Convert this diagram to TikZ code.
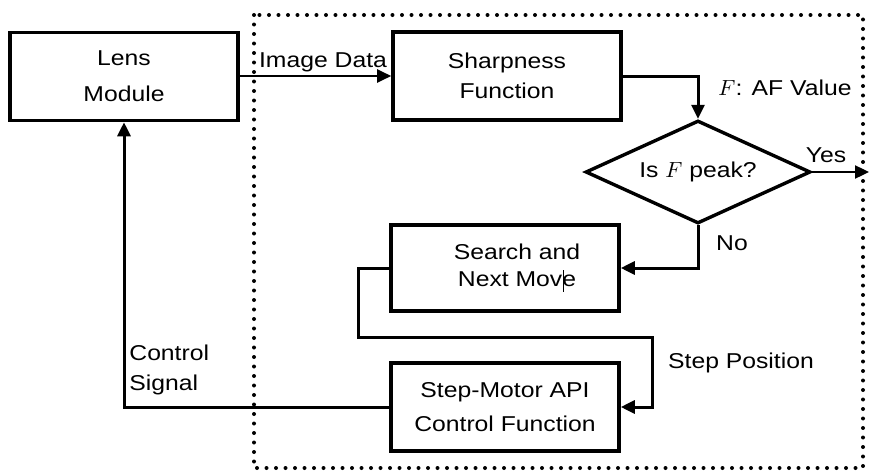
\documentclass[tikz,border=0pt]{standalone}
\usepackage{fontspec}
\setmainfont[FakeStretch=1.15]{Liberation Sans}
\usetikzlibrary{shapes.geometric,arrows.meta}

\begin{document}
\begin{tikzpicture}[x=0.5pt,y=-0.5pt,
  every node/.style={font=\fontsize{10.75}{13}\selectfont, inner sep=0pt},
  box/.style={draw, line width=1.8pt, minimum width=114pt, minimum height=44pt, align=center},
  decision/.style={draw, diamond, line width=1.7pt, shape aspect=2.2,
                   minimum width=112.5pt, minimum height=51.5pt},
  flow/.style={line width=1.5pt, -{Triangle[length=7pt,width=6.5pt]}},
  thinflow/.style={line width=1.1pt, -{Triangle[length=7pt,width=6.5pt]}},
  lbl/.style={align=center},
  region/.style={line width=2pt, line cap=round, dash pattern=on 0pt off 4.75pt}]

\useasboundingbox (0,0) rectangle (869,471);

% auto-focus region
\draw[region] (254,15) rectangle (863,468);

% blocks
\node[box] (lens)   at (124,76.5) {Lens\\[5pt]Module};
\node[box] (sharp)  at (507,76)   {Sharpness\\[2pt]Function};
\node[decision] (peak) at (698,172) {Is $F$ peak?};
\node[box, minimum height=43pt] (search) at (505,268)
  {\hspace*{12pt}Search and\\[0.5pt]\hspace*{12pt}Next Mov\rlap{\kern0.2pt\rule[-2.5pt]{0.5pt}{11pt}}e};
\node[box] (motor)  at (505,407)  {Step-Motor API\\[4pt]Control Function};

% free ends and bends
\coordinate (yesend) at (869,172);
\coordinate (loopl) at (358,337);
\coordinate (loopr) at (652,337);

% connectors
\draw[thinflow] (lens.east |- 0,76) -- (sharp.west |- 0,76);
\draw[flow] (sharp.east) -| (peak.north);
\draw[flow, line width=1.2pt] (peak.east) -- (yesend);
\draw[flow] (peak.south) |- (search.east);
\draw[flow] (search.west) -| (loopl) -- (loopr) |- (motor.east);
\draw[flow] (motor.west) -| (lens.south);

% labels
\node[lbl] (limg)  at (323,62)  {Image Data};
\node[lbl] (laf)   at (785,88)  {$F$: AF Value};
\node[lbl] (lyes)  at (826,155) {Yes};
\node[lbl] (lno)   at (732,243) {No};
\node[lbl] (lstep) at (741,363) {Step Position};
\node[align=left, anchor=west] (lctl) at (129,370) {Control\\[2pt]Signal};
\end{tikzpicture}
\end{document}
